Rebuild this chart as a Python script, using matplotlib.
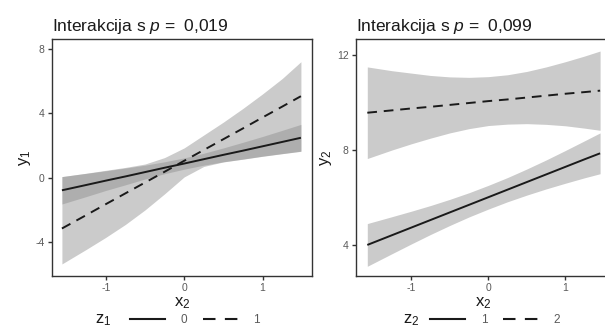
import numpy as np
import matplotlib
matplotlib.use('Agg')
import matplotlib.pyplot as plt
from matplotlib.lines import Line2D

plt.rcParams['font.family'] = ['Liberation Sans', 'DejaVu Sans']
plt.rcParams['mathtext.fontset'] = 'custom'
plt.rcParams['mathtext.it'] = 'Liberation Sans:italic'
plt.rcParams['mathtext.rm'] = 'Liberation Sans'
plt.rcParams['axes.unicode_minus'] = False

# left panel: y1 by x2, groups z1 = 0 (solid) / 1 (dashed)
x_left = [-1.56, -1.25, -1.0, -0.75, -0.5, -0.25, 0.0, 0.25, 0.5, 0.75, 1.0, 1.25, 1.49]
y1_z0 = [-0.78, -0.45, -0.18, 0.08, 0.35, 0.62, 0.88, 1.15, 1.42, 1.68, 1.95, 2.22, 2.48]
y1_z0_lo = [-1.63, -1.17, -0.79, -0.44, -0.08, 0.25, 0.53, 0.78, 0.99, 1.16, 1.34, 1.50, 1.65]
y1_z0_hi = [0.07, 0.27, 0.43, 0.60, 0.78, 0.99, 1.23, 1.52, 1.85, 2.20, 2.56, 2.94, 3.31]
y1_z1 = [-3.15, -2.32, -1.64, -0.97, -0.30, 0.37, 1.05, 1.72, 2.39, 3.06, 3.74, 4.41, 5.06]
y1_z1_lo = [-5.35, -4.45, -3.70, -2.90, -2.00, -1.00, 0.05, 0.70, 0.98, 1.15, 1.33, 1.49, 1.64]
y1_z1_hi = [0.07, 0.28, 0.46, 0.64, 0.85, 1.25, 1.85, 2.65, 3.45, 4.30, 5.20, 6.15, 7.20]

# right panel: y2 by x2, groups z2 = 1 (solid) / 2 (dashed)
x_right = [-1.57, -1.25, -1.0, -0.75, -0.5, -0.25, 0.0, 0.25, 0.5, 0.75, 1.0, 1.25, 1.45]
y2_z1 = [4.00, 4.41, 4.73, 5.05, 5.37, 5.69, 6.01, 6.33, 6.65, 6.97, 7.29, 7.61, 7.86]
y2_z1_lo = [3.10, 3.63, 4.04, 4.44, 4.82, 5.18, 5.51, 5.82, 6.10, 6.36, 6.60, 6.83, 7.00]
y2_z1_hi = [4.90, 5.19, 5.42, 5.66, 5.92, 6.20, 6.51, 6.84, 7.20, 7.58, 7.98, 8.39, 8.72]
y2_z2 = [9.57, 9.67, 9.75, 9.82, 9.90, 9.98, 10.06, 10.13, 10.21, 10.29, 10.37, 10.44, 10.50]
y2_z2_lo = [7.64, 8.00, 8.26, 8.50, 8.72, 8.90, 9.03, 9.09, 9.11, 9.08, 9.02, 8.92, 8.83]
y2_z2_hi = [11.50, 11.34, 11.24, 11.14, 11.08, 11.06, 11.09, 11.17, 11.31, 11.50, 11.72, 11.96, 12.17]

panels = [
    dict(x=x_left, a=(y1_z0, y1_z0_lo, y1_z0_hi), b=(y1_z1, y1_z1_lo, y1_z1_hi),
         title='Interakcija s $p$ =  0,019', ylab='y$_1$', leg='z$_1$', labs=['0', '1'],
         yticks=[-4, 0, 4, 8], ylim=(-6.1, 8.6), xlim=(-1.69, 1.63),
         leg_x=0.165, hnd_x=0.30),
    dict(x=x_right, a=(y2_z1, y2_z1_lo, y2_z1_hi), b=(y2_z2, y2_z2_lo, y2_z2_hi),
         title='Interakcija s $p$ =  0,099', ylab='y$_2$', leg='z$_2$', labs=['1', '2'],
         yticks=[4, 8, 12], ylim=(2.69, 12.67), xlim=(-1.72, 1.60),
         leg_x=0.185, hnd_x=0.29),
]

fig = plt.figure(figsize=(6.05, 3.29), dpi=100)
boxes = [[0.0855, 0.161, 0.430, 0.720], [0.588, 0.161, 0.423, 0.720]]

band = '#8c8c8c'
ink = '#1a1a1a'
dash = (0, (5, 3.5))
for p, box in zip(panels, boxes):
    ax = fig.add_axes(box)
    x = p['x']
    ax.fill_between(x, p['b'][1], p['b'][2], color=band, alpha=0.45, lw=0)
    ax.fill_between(x, p['a'][1], p['a'][2], color=band, alpha=0.45, lw=0)
    ax.plot(x, p['a'][0], color=ink, lw=1.4, solid_capstyle='butt')
    ax.plot(x, p['b'][0], color=ink, lw=1.4, ls=dash, dash_capstyle='butt')
    ax.set_xlim(*p['xlim'])
    ax.set_ylim(*p['ylim'])
    ax.set_xticks([-1, 0, 1])
    ax.set_yticks(p['yticks'])
    ax.tick_params(colors='#333333', labelcolor='#5a5a5a', labelsize=7.5,
                   length=3, width=1, pad=2)
    for s in ax.spines.values():
        s.set_color('#333333')
        s.set_linewidth(1.0)
    ax.set_title(p['title'], loc='left', fontsize=12.5, pad=6, color='#1a1a1a')
    ax.set_xlabel('x$_2$', fontsize=12, color='#1a1a1a', va='top')
    ax.xaxis.set_label_coords(0.5, -0.08)
    ax.set_ylabel(p['ylab'], fontsize=12, labelpad=2, color='#1a1a1a')

    handles = [Line2D([], [], color=ink, lw=1.5),
               Line2D([], [], color=ink, lw=1.5, ls=(0, (6, 4.5)))]
    ax.legend(handles, p['labs'], loc='center left', bbox_to_anchor=(p['hnd_x'], -0.185),
              ncol=2, frameon=False, fontsize=8.5, handlelength=3.0,
              handletextpad=1.3, columnspacing=1.3, labelcolor='#5a5a5a',
              borderpad=0, borderaxespad=0)
    ax.text(p['leg_x'], -0.185, p['leg'], transform=ax.transAxes, fontsize=12,
            ha='left', va='center', color='#1a1a1a')

fig.savefig('out.png', dpi=100)
